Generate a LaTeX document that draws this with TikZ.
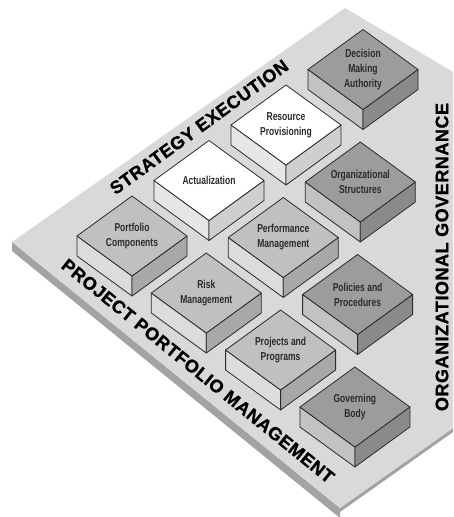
\documentclass[tikz,border=0pt]{standalone}
\usepackage{fontspec}
\setmainfont{Liberation Sans}
\newfontfamily\blockfont[FakeStretch=0.74]{Liberation Sans}
\newfontfamily\bandfont[LetterSpace=3,FakeBold=1]{Liberation Sans}
\definecolor{platTop}{HTML}{D9D9D9}
\definecolor{platSide}{HTML}{A3A3A3}
\definecolor{ltTop}{HTML}{C0C0C0}
\definecolor{ltLeft}{HTML}{DCDCDC}
\definecolor{ltRight}{HTML}{A8A8A8}
\definecolor{dkTop}{HTML}{9C9C9C}
\definecolor{dkLeft}{HTML}{C2C2C2}
\definecolor{dkRight}{HTML}{8A8A8A}
\definecolor{wtTop}{HTML}{FFFFFF}
\definecolor{wtLeft}{HTML}{E6E6E6}
\definecolor{wtRight}{HTML}{CFCFCF}
\definecolor{ink}{HTML}{2B2B2B}
\tikzset{
  blockline/.style={draw=ink, line width=0.8pt, line join=round},
  blocklabel/.style={font=\blockfont\bfseries\fontsize{11.5}{15}\selectfont, text=ink, align=center, inner sep=0pt},
  bandlabel/.style={font=\bandfont\bfseries\fontsize{18}{20}\selectfont, text=black, inner sep=0pt},
  pics/block/.style n args={4}{code={
    \path[blockline, fill=#2] (-55,0) -- (0,40) -- (0,60) -- (-55,20) -- cycle;
    \path[blockline, fill=#3] (0,40) -- (55,0) -- (55,20) -- (0,60) -- cycle;
    \path[blockline, fill=#1] (-55,0) -- (0,-40) -- (55,0) -- (0,40) -- cycle;
    \node[blocklabel] (-t) at (0,0) {#4};
  }},
}
\begin{document}
\begin{tikzpicture}[x=1pt,y=-1pt]
\useasboundingbox (0,0) rectangle (453,517);
\clip (0,0) rectangle (453,517);
\fill[white] (0,0) rectangle (453,517);
% platform
\fill[platSide] (12,242) -- (340,508) -- (340,518) -- (12,251) -- cycle;
\fill[platSide] (340,508) -- (470,416) -- (470,420) -- (340,512) -- cycle;
\fill[platTop] (12,242) -- (345,8) -- (470,82) -- (470,416) -- (340,508) -- cycle;
% blocks
\pic (pc) at (132,236) {block={ltTop}{ltLeft}{ltRight}{Portfolio\\Components}};
\pic (ac) at (209,180.5) {block={wtTop}{wtLeft}{wtRight}{Actualization}};
\pic (rp) at (286,125) {block={wtTop}{wtLeft}{wtRight}{Resource\\Provisioning}};
\pic (dm) at (363,69.5) {block={dkTop}{dkLeft}{dkRight}{Decision\\Making\\Authority}};
\pic (rm) at (206.3,293) {block={ltTop}{ltLeft}{ltRight}{Risk\\Management}};
\pic (pm) at (283.3,237.5) {block={ltTop}{ltLeft}{ltRight}{Performance\\Management}};
\pic (os) at (360.3,182) {block={dkTop}{dkLeft}{dkRight}{Organizational\\Structures}};
\pic (pp) at (280.6,350) {block={ltTop}{ltLeft}{ltRight}{Projects and\\Programs}};
\pic (po) at (357.6,294.5) {block={dkTop}{dkLeft}{dkRight}{Policies and\\Procedures}};
\pic (gb) at (354.9,407) {block={dkTop}{dkLeft}{dkRight}{Governing\\Body}};
% band labels
\node[bandlabel, rotate=36] (se) at (199,127) {STRATEGY EXECUTION};
\node[bandlabel, rotate=-39] (ppm) at (198,371) {PROJECT PORTFOLIO MANAGEMENT};
\node[bandlabel, rotate=90] (og) at (442,257) {ORGANIZATIONAL GOVERNANCE};
\end{tikzpicture}
\end{document}
